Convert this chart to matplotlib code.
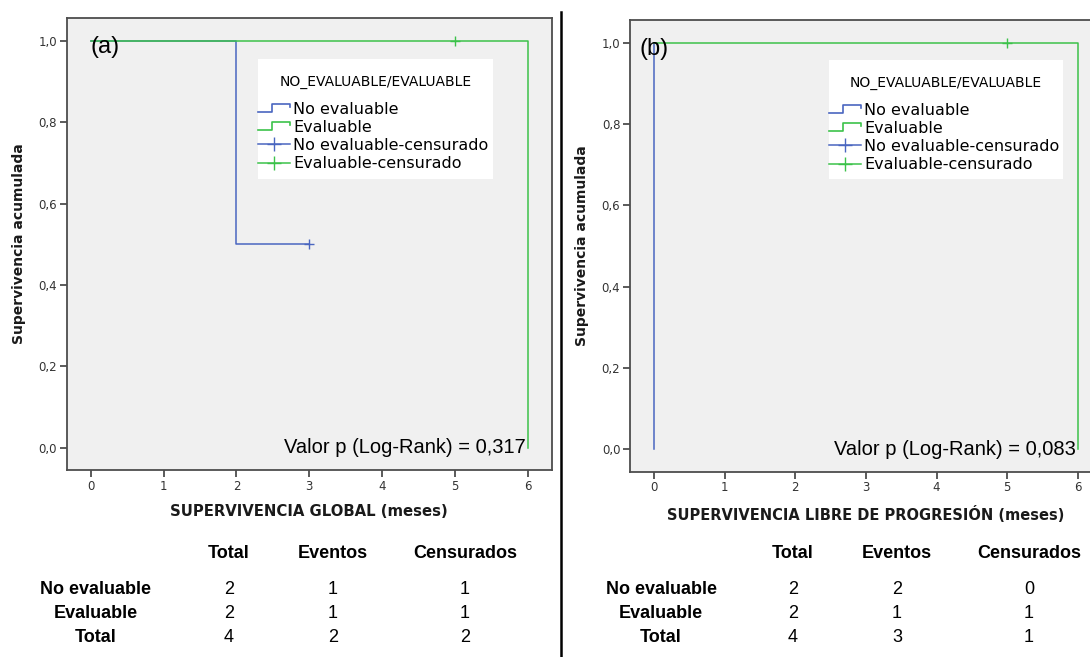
import matplotlib
matplotlib.use("Agg")
import matplotlib.pyplot as plt
from matplotlib.legend_handler import HandlerBase
from matplotlib.lines import Line2D
from matplotlib.patches import Rectangle

# Survival data: time in months, event flag (1 = event, 0 = censored)
noeval_os_time = [2, 3]
noeval_os_event = [1, 0]
eval_os_time = [5, 6]
eval_os_event = [0, 1]

noeval_pfs_time = [0, 0]
noeval_pfs_event = [1, 1]
eval_pfs_time = [5, 6]
eval_pfs_event = [0, 1]

panel_tags = ["(a)", "(b)"]
xlabels = ["SUPERVIVENCIA GLOBAL (meses)", "SUPERVIVENCIA LIBRE DE PROGRESIÓN (meses)"]
pvalues = ["Valor p (Log-Rank) = 0,317", "Valor p (Log-Rank) = 0,083"]
group_names = ["No evaluable", "Evaluable"]
legend_title = "NO_EVALUABLE/EVALUABLE"

table_cols = ["Total", "Eventos", "Censurados"]
table_rows = ["No evaluable", "Evaluable", "Total"]
table_os = [[2, 1, 1], [2, 1, 1], [4, 2, 2]]
table_pfs = [[2, 2, 0], [2, 1, 1], [4, 3, 1]]

x_ticks = [0, 1, 2, 3, 4, 5, 6]
y_ticks = [0.0, 0.2, 0.4, 0.6, 0.8, 1.0]

BLUE = "#4a66c0"
GREEN = "#3cc24a"
SANS = ["Liberation Sans", "DejaVu Sans"]


def km_curve(times, events):
    """Kaplan-Meier step coordinates and censor marks."""
    pairs = sorted(zip(times, events))
    at_risk = len(pairs)
    s = 1.0
    xs, ys, cx, cy = [0], [1.0], [], []
    for t in sorted(set(times)):
        d = sum(1 for tt, e in pairs if tt == t and e == 1)
        c = sum(1 for tt, e in pairs if tt == t and e == 0)
        if d:
            xs += [t, t]
            ys += [s, s * (1 - d / at_risk)]
            s = s * (1 - d / at_risk)
        if c:
            cx.append(t)
            cy.append(s)
        at_risk -= d + c
    xs.append(max(times))
    ys.append(s)
    return xs, ys, cx, cy


class StepHandler(HandlerBase):
    def __init__(self, color):
        super().__init__()
        self.color = color

    def create_artists(self, legend, orig_handle, xdescent, ydescent, width, height, fontsize, trans):
        x0, y0 = -xdescent, -ydescent
        xs = [x0, x0 + 0.45 * width, x0 + 0.45 * width, x0 + width, x0 + width]
        ys = [y0 + 0.15 * height, y0 + 0.15 * height, y0 + 0.9 * height, y0 + 0.9 * height, y0 + 0.6 * height]
        return [Line2D(xs, ys, color=self.color, lw=1.2, transform=trans)]


fig = plt.figure(figsize=(10.9, 6.57), dpi=100)

axes_pos = [
    [66.7 / 1090, 1 - 470 / 657, 485.3 / 1090, 452 / 657],
    [630 / 1090, 1 - 471.7 / 657, 471.8 / 1090, 451.7 / 657],
]
xlims = [(-0.33, 6.33), (-0.34, 6.34)]
tag_x = [0.0, -0.2]
xlabel_size = [10.7, 10.5]
# legend background box in axes fraction: x, y, w, h
legend_box = [(0.394, 0.644, 0.484, 0.265), (0.422, 0.648, 0.496, 0.263)]
datasets = [
    [(noeval_os_time, noeval_os_event), (eval_os_time, eval_os_event)],
    [(noeval_pfs_time, noeval_pfs_event), (eval_pfs_time, eval_pfs_event)],
]

for i in range(2):
    ax = fig.add_axes(axes_pos[i])
    ax.set_facecolor("#f0f0f0")
    for sp in ax.spines.values():
        sp.set_color("#4d4d4d")
        sp.set_linewidth(1.3)

    for (times, events), col in zip(datasets[i], [BLUE, GREEN]):
        xs, ys, cx, cy = km_curve(times, events)
        ax.plot(xs, ys, color=col, lw=1.1)
        ax.plot(cx, cy, ls="none", marker="+", color=col, ms=6.5, mew=1.0)

    ax.set_xlim(*xlims[i])
    ax.set_ylim(-0.055, 1.056)
    ax.set_xticks(x_ticks)
    ax.set_xticklabels([str(t) for t in x_ticks])
    ax.set_yticks(y_ticks)
    ax.set_yticklabels([f"{v:.1f}".replace(".", ",") for v in y_ticks])
    ax.tick_params(direction="out", length=5, width=1.3, color="#4d4d4d",
                   labelsize=8.5, labelcolor="#333333", pad=2)
    ax.set_xlabel(xlabels[i], fontsize=xlabel_size[i], fontweight="bold", labelpad=8, color="#1a1a1a")
    ax.set_ylabel("Supervivencia acumulada", fontsize=10, fontweight="bold", labelpad=9, color="#1a1a1a")

    ax.text(tag_x[i], 0.985, panel_tags[i], fontsize=17, family=SANS, ha="left", va="center")
    ax.text(5.97, 0.0, pvalues[i], fontsize=14.5, family=SANS, ha="right", va="center")

    bx, by, bw, bh = legend_box[i]
    ax.add_patch(Rectangle((bx, by), bw, bh, transform=ax.transAxes, facecolor="white",
                           edgecolor="none", zorder=4))

    handles = [
        Line2D([], [], color=BLUE),
        Line2D([], [], color=GREEN),
        Line2D([], [], color=BLUE, marker="+", ms=10, mew=1.0, lw=1.1),
        Line2D([], [], color=GREEN, marker="+", ms=10, mew=1.0, lw=1.1),
    ]
    labels = [group_names[0], group_names[1],
              group_names[0] + "-censurado", group_names[1] + "-censurado"]
    leg = ax.legend(handles, labels, title=legend_title,
                    handler_map={handles[0]: StepHandler(BLUE), handles[1]: StepHandler(GREEN)},
                    loc="upper left", bbox_to_anchor=(bx, by + bh - 0.035, bw, 0.0),
                    mode="expand", borderaxespad=0, fontsize=11.5, title_fontsize=10,
                    handlelength=2.0, handletextpad=0.2, labelspacing=0.2, borderpad=0,
                    frameon=False, numpoints=1)
    leg.set_zorder(5)
    leg._legend_box.sep = 9

# Divider between panels
fig.add_artist(Line2D([561 / 1090, 561 / 1090], [0, 1 - 12 / 657], color="black", lw=1.8))

# Summary tables
tables = [table_os, table_pfs]
label_cx = [96, 661]
col_cx = [[229, 333, 465], [793, 897, 1029]]
header_y = 553
row_y = [590, 614, 638]
for t in range(2):
    for j, name in enumerate(table_cols):
        fig.text(col_cx[t][j] / 1090, 1 - header_y / 657, name, fontsize=13, fontweight="bold",
                 family=SANS, ha="center", va="center")
    for r, rname in enumerate(table_rows):
        fig.text(label_cx[t] / 1090, 1 - row_y[r] / 657, rname, fontsize=13, fontweight="bold",
                 family=SANS, ha="center", va="center")
        for j in range(3):
            fig.text(col_cx[t][j] / 1090, 1 - row_y[r] / 657, str(tables[t][r][j]), fontsize=13,
                     family=SANS, ha="center", va="center")

fig.savefig("out.png", dpi=100)
